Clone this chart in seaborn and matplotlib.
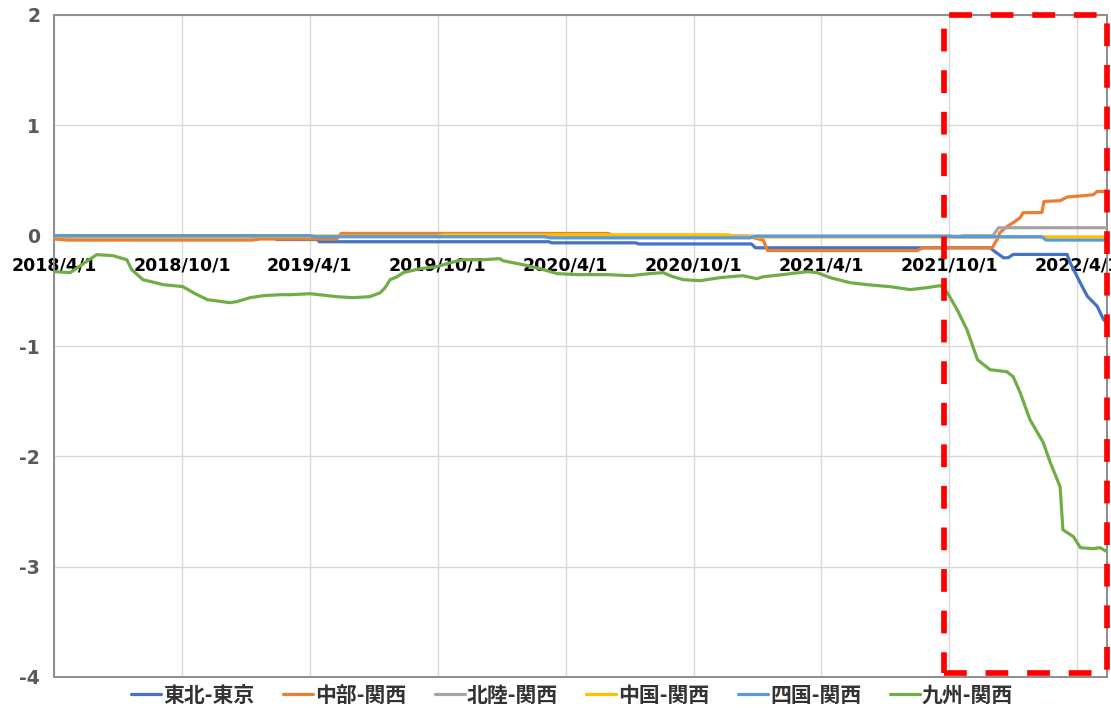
import matplotlib
matplotlib.use("Agg")
import matplotlib.pyplot as plt
import matplotlib.dates as mdates
import matplotlib.transforms as mtransforms
from matplotlib.patches import Rectangle
from matplotlib.lines import Line2D
from matplotlib.font_manager import FontProperties
import pandas as pd
import seaborn as sns

# ---- series names and colours ----
SERIES = ["東北-東京", "中部-関西", "北陸-関西", "中国-関西", "四国-関西", "九州-関西"]
COLORS = ["#4472C4", "#ED7D31", "#A5A5A5", "#FFC000", "#5B9BD5", "#70AD47"]

# ---- 東北-東京 ----
tohoku_dates = ["2018-04-01", "2019-02-10", "2019-02-13", "2019-04-12", "2019-04-15",
                "2020-03-08", "2020-03-12", "2020-07-10", "2020-07-14", "2020-12-22",
                "2020-12-28", "2021-11-28", "2021-12-04", "2021-12-17", "2021-12-24",
                "2021-12-31", "2022-03-18", "2022-03-22", "2022-04-06", "2022-04-16",
                "2022-04-30", "2022-05-09", "2022-05-14"]
tohoku_vals = [-0.01, -0.01, -0.035, -0.035, -0.055,
               -0.055, -0.065, -0.065, -0.075, -0.075,
               -0.11, -0.11, -0.14, -0.20, -0.20,
               -0.17, -0.17, -0.24, -0.43, -0.55,
               -0.64, -0.76, -0.79]

# ---- 中部-関西 ----
chubu_dates = ["2018-04-01", "2018-04-20", "2019-01-10", "2019-01-20", "2019-05-10",
               "2019-05-16", "2020-06-01", "2020-06-08", "2020-12-16", "2021-01-08",
               "2021-01-14", "2021-08-16", "2021-08-24", "2021-11-28", "2021-12-01",
               "2021-12-08", "2021-12-12", "2021-12-22", "2021-12-31", "2022-01-10",
               "2022-01-14", "2022-02-10", "2022-02-13", "2022-03-08", "2022-03-18",
               "2022-04-24", "2022-04-30", "2022-05-14"]
chubu_vals = [-0.03, -0.04, -0.04, -0.03, -0.03,
              0.02, 0.02, -0.005, -0.005, -0.04,
              -0.135, -0.135, -0.11, -0.11, -0.11,
              -0.036, 0.027, 0.082, 0.118, 0.163,
              0.208, 0.21, 0.31, 0.317, 0.35,
              0.37, 0.40, 0.40]

# ---- 北陸-関西 ----
hokuriku_dates = ["2018-04-01", "2021-10-15", "2021-10-20", "2021-12-02", "2021-12-10", "2022-05-14"]
hokuriku_vals = [-0.005, -0.005, 0.0, 0.0, 0.072, 0.072]

# ---- 中国-関西 ----
chugoku_dates = ["2018-04-01", "2019-10-01", "2019-10-10", "2020-11-20", "2020-11-28", "2022-05-14"]
chugoku_vals = [-0.005, -0.005, 0.008, 0.008, -0.012, -0.012]

# ---- 四国-関西 ----
shikoku_dates = ["2018-04-01", "2019-04-01", "2019-04-10", "2020-03-01", "2020-03-10",
                 "2020-12-20", "2020-12-28", "2021-09-30", "2021-10-08", "2022-02-10",
                 "2022-02-16", "2022-05-14"]
shikoku_vals = [0.0, 0.0, -0.01, -0.01, -0.02,
                -0.02, -0.005, -0.005, -0.01, -0.01,
                -0.04, -0.04]

# ---- 九州-関西 ----
kyushu_dates = ["2018-04-01", "2018-04-24", "2018-06-01", "2018-06-24", "2018-07-14",
                "2018-07-21", "2018-08-06", "2018-09-04", "2018-10-02", "2018-10-17",
                "2018-11-06", "2018-12-08", "2018-12-18", "2019-01-06", "2019-01-25",
                "2019-02-18", "2019-03-04", "2019-04-02", "2019-05-10", "2019-06-02",
                "2019-06-26", "2019-07-11", "2019-07-18", "2019-07-25", "2019-08-04",
                "2019-08-13", "2019-09-06", "2019-09-30", "2019-10-19", "2019-11-06",
                "2019-12-05", "2019-12-29", "2020-01-02", "2020-01-31", "2020-02-24",
                "2020-03-20", "2020-04-17", "2020-05-30", "2020-07-02", "2020-07-30",
                "2020-08-18", "2020-09-01", "2020-09-16", "2020-10-10", "2020-11-07",
                "2020-11-22", "2020-12-10", "2020-12-30", "2021-01-08", "2021-02-05",
                "2021-03-12", "2021-03-26", "2021-04-14", "2021-05-12", "2021-06-05",
                "2021-07-08", "2021-08-06", "2021-08-30", "2021-09-18", "2021-09-28",
                "2021-10-12", "2021-10-26", "2021-11-10", "2021-11-28", "2021-12-22",
                "2021-12-31", "2022-01-10", "2022-01-24", "2022-02-12", "2022-02-22",
                "2022-03-08", "2022-03-12", "2022-03-27", "2022-04-06", "2022-04-24",
                "2022-05-04", "2022-05-14"]
kyushu_vals = [-0.326, -0.335, -0.172, -0.181, -0.218,
               -0.308, -0.399, -0.444, -0.462, -0.517,
               -0.580, -0.607, -0.598, -0.562, -0.544,
               -0.535, -0.535, -0.526, -0.553, -0.562,
               -0.553, -0.517, -0.471, -0.399, -0.372,
               -0.335, -0.299, -0.281, -0.245, -0.218,
               -0.218, -0.208, -0.227, -0.263, -0.299,
               -0.344, -0.353, -0.353, -0.363, -0.344,
               -0.335, -0.372, -0.399, -0.408, -0.381,
               -0.372, -0.363, -0.390, -0.372, -0.353,
               -0.326, -0.335, -0.381, -0.426, -0.444,
               -0.462, -0.489, -0.471, -0.453, -0.517,
               -0.671, -0.852, -1.124, -1.215, -1.233,
               -1.278, -1.423, -1.668, -1.876, -2.057,
               -2.275, -2.665, -2.728, -2.828, -2.837,
               -2.828, -2.864]

# ---- axes ----
x_start, x_end = "2018-04-01", "2022-05-14"
x_tick_dates = ["2018-04-01", "2018-10-01", "2019-04-01", "2019-10-01", "2020-04-01",
                "2020-10-01", "2021-04-01", "2021-10-01", "2022-04-01"]
x_tick_labels = ["2018/4/1", "2018/10/1", "2019/4/1", "2019/10/1", "2020/4/1",
                 "2020/10/1", "2021/4/1", "2021/10/1", "2022/4/1"]
y_ticks = [-4, -3, -2, -1, 0, 1, 2]
highlight_start = "2021-09-23"

series_data = [
    (tohoku_dates, tohoku_vals),
    (chubu_dates, chubu_vals),
    (hokuriku_dates, hokuriku_vals),
    (chugoku_dates, chugoku_vals),
    (shikoku_dates, shikoku_vals),
    (kyushu_dates, kyushu_vals),
]
frames = []
for name, (d, v) in zip(SERIES, series_data):
    frames.append(pd.DataFrame({"date": pd.to_datetime(d), "value": v, "series": name}))
df = pd.concat(frames, ignore_index=True)

sns.set_theme(style="white")
plt.rcParams["font.family"] = ["Noto Sans CJK JP", "DejaVu Sans"]

fig = plt.figure(figsize=(11.11, 7.08), dpi=100)
ax = fig.add_axes([54 / 1111, 31 / 708, 1053 / 1111, 662 / 708])

sns.lineplot(data=df, x="date", y="value", hue="series", hue_order=SERIES,
             palette=COLORS, estimator=None, linewidth=2.3, ax=ax, legend=False)

ax.set_xlim(pd.Timestamp(x_start), pd.Timestamp(x_end))
ax.set_ylim(y_ticks[0], y_ticks[-1])
ax.set_xlabel("")
ax.set_ylabel("")

# horizontal axis crosses at zero
for side in ["top", "right", "left"]:
    ax.spines[side].set_visible(False)
ax.spines["bottom"].set_position(("data", 0))
ax.spines["bottom"].set_color("#8c8c8c")
ax.spines["bottom"].set_linewidth(1.0)
ax.spines["bottom"].set_zorder(0.5)
ax.add_patch(Rectangle((0, 0), 1, 1, transform=ax.transAxes, fill=False,
                       edgecolor="#8c8c8c", linewidth=1.4, clip_on=False, zorder=0.6))

ax.set_xticks(pd.to_datetime(x_tick_dates))
ax.set_xticklabels(x_tick_labels, fontsize=12.5, fontweight="bold", color="black",
                   family="DejaVu Sans")
ax.set_yticks(y_ticks)
ax.set_yticklabels([str(t) for t in y_ticks], fontsize=13.5, fontweight="bold",
                   color="#595959", family="DejaVu Sans")
ax.tick_params(axis="x", length=0, pad=15)
ax.tick_params(axis="y", length=0, pad=10)

ax.grid(True, color="#d9d9d9", linewidth=1.0)
ax.set_axisbelow(True)

# highlighted period
trans = mtransforms.blended_transform_factory(ax.transData, ax.transAxes)
x0 = mdates.date2num(pd.Timestamp(highlight_start))
x1 = mdates.date2num(pd.Timestamp(x_end))
ax.add_patch(Rectangle((x0, 0.006), x1 - x0, 0.994, transform=trans, fill=False,
                       edgecolor="#ff0000", linewidth=4.1, linestyle=(0, (4.0, 3.3)),
                       clip_on=False, zorder=6))

handles = [Line2D([0], [0], color=c, linewidth=2.3) for c in COLORS]
fig.legend(handles, SERIES, loc="center", bbox_to_anchor=(572 / 1111, 13 / 708),
           ncol=6, frameon=False,
           prop=FontProperties(family="Noto Sans CJK JP", size=15, weight="bold"),
           handlelength=1.44, handletextpad=0.1, columnspacing=1.36, labelcolor="#333333",
           borderaxespad=0, borderpad=0)

fig.savefig("out.png", dpi=100)
